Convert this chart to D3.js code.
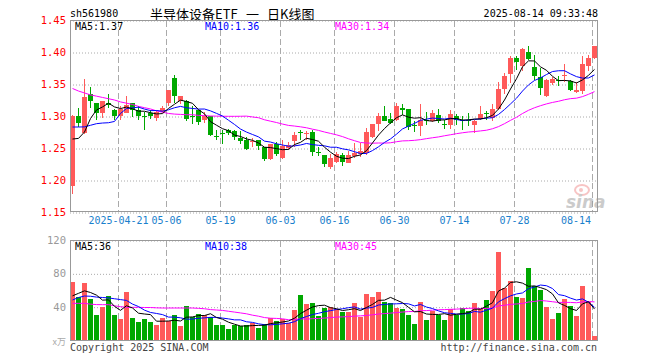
<!DOCTYPE html>
<html>
<head>
<meta charset="utf-8">
<script src="https://cdnjs.cloudflare.com/ajax/libs/d3/7.8.5/d3.min.js"></script>
<style>
body { margin: 0; background: #fff; }
svg { display: block; }
</style>
</head>
<body>
<div id="chart"></div>
<script>
// trading days shown (2025)
var dates = ["04-09","04-10","04-11","04-14","04-15","04-16","04-17","04-18","04-21","04-22","04-23","04-24","04-25","04-28","04-29","04-30",
  "05-06","05-07","05-08","05-09","05-12","05-13","05-14","05-15","05-16","05-19","05-20","05-21","05-22","05-23","05-26","05-27","05-28","05-29","05-30",
  "06-03","06-04","06-05","06-06","06-09","06-10","06-11","06-12","06-13","06-16","06-17","06-18","06-19","06-20","06-23","06-24","06-25","06-26","06-27","06-30",
  "07-01","07-02","07-03","07-04","07-07","07-08","07-09","07-10","07-11","07-14","07-15","07-16","07-17","07-18","07-21","07-22","07-23","07-24","07-25","07-28","07-29","07-30","07-31",
  "08-01","08-04","08-05","08-06","08-07","08-08","08-11","08-12","08-13","08-14"]

var open = [1.190,1.300,1.273,1.335,1.321,1.305,1.321,1.310,1.300,1.304,1.321,1.310,1.300,1.304,1.298,1.307,
  1.320,1.360,1.324,1.324,1.300,1.309,1.293,1.300,1.269,1.273,1.278,1.276,1.265,1.263,1.259,1.262,1.252,1.233,1.257,
  1.234,1.250,1.262,1.275,1.272,1.275,1.243,1.239,1.221,1.228,1.239,1.227,1.238,1.242,1.242,1.267,1.288,1.3005,1.296,1.293,
  1.3125,1.3115,1.286,1.284,1.293,1.293,1.302,1.287,1.2865,1.3005,1.2935,1.294,1.2865,1.296,1.305,1.297,1.3115,1.342,1.3646,1.390,1.378,1.400,1.3766,
  1.361,1.332,1.3516,1.3555,1.362,1.354,1.3375,1.340,1.3786,1.391]
var high = [1.302,1.313,1.358,1.346,1.321,1.324,1.335,1.311,1.315,1.332,1.321,1.315,1.307,1.310,1.310,1.316,
  1.341,1.364,1.332,1.325,1.315,1.310,1.307,1.300,1.278,1.278,1.280,1.278,1.276,1.267,1.266,1.263,1.252,1.257,1.260,
  1.263,1.259,1.275,1.278,1.276,1.278,1.252,1.239,1.241,1.243,1.242,1.245,1.258,1.258,1.282,1.288,1.304,1.316,1.304,1.321,
  1.318,1.3115,1.292,1.318,1.307,1.310,1.3115,1.294,1.309,1.3036,1.3005,1.305,1.293,1.315,1.308,1.319,1.3526,1.367,1.394,1.393,1.407,1.410,1.396,
  1.375,1.358,1.3604,1.362,1.382,1.357,1.3526,1.394,1.396,1.410]
var low = [1.178,1.283,1.272,1.312,1.293,1.297,1.312,1.294,1.294,1.304,1.299,1.294,1.278,1.295,1.292,1.304,
  1.316,1.320,1.318,1.292,1.287,1.286,1.289,1.269,1.263,1.257,1.270,1.263,1.256,1.247,1.252,1.247,1.230,1.231,1.238,
  1.233,1.247,1.252,1.263,1.263,1.237,1.238,1.220,1.217,1.226,1.222,1.226,1.235,1.236,1.239,1.265,1.276,1.292,1.287,1.292,
  1.302,1.278,1.2745,1.269,1.2855,1.290,1.2885,1.279,1.280,1.2865,1.2776,1.284,1.2734,1.2943,1.2943,1.2927,1.310,1.335,1.3516,1.372,1.370,1.387,1.357,
  1.333,1.330,1.3484,1.3464,1.3526,1.3385,1.336,1.335,1.370,1.389]
var close = [1.300,1.289,1.329,1.324,1.305,1.324,1.318,1.300,1.311,1.317,1.310,1.300,1.299,1.300,1.307,1.313,
  1.340,1.332,1.332,1.296,1.299,1.290,1.300,1.271,1.268,1.272,1.274,1.266,1.260,1.249,1.261,1.253,1.233,1.257,1.241,
  1.253,1.255,1.271,1.274,1.273,1.243,1.242,1.2245,1.235,1.241,1.228,1.239,1.242,1.246,1.2745,1.288,1.3005,1.293,1.290,1.315,
  1.310,1.283,1.285,1.294,1.2925,1.305,1.292,1.286,1.3036,1.294,1.293,1.293,1.2927,1.3036,1.304,1.3115,1.3427,1.363,1.390,1.384,1.405,1.389,1.362,
  1.344,1.357,1.358,1.355,1.364,1.340,1.341,1.382,1.3906,1.410]

var ma5 = [1.264,1.265,1.275,1.296,1.3094,1.3142,1.3200,1.3142,1.3116,1.3140,1.3112,1.3076,1.3074,1.3052,1.3032,1.3038,
  1.3118,1.3184,1.3248,1.3226,1.3198,1.3098,1.3034,1.2912,1.2856,1.2802,1.2770,1.2702,1.2680,1.2642,1.2620,1.2578,1.2512,1.2506,1.2490,
  1.2474,1.2478,1.2554,1.2588,1.2652,1.2632,1.2606,1.2513,1.2435,1.2371,1.2341,1.2335,1.2370,1.2392,1.2459,1.2579,1.2702,1.2804,1.2892,1.2973,
  1.3017,1.2982,1.2966,1.2974,1.2929,1.2919,1.2937,1.2939,1.2958,1.2961,1.2937,1.2939,1.2953,1.2953,1.2973,1.3010,1.3109,1.3250,1.3422,1.3582,1.3769,1.3862,1.3860,
  1.3768,1.3714,1.3620,1.3552,1.3556,1.3548,1.3516,1.3564,1.3636,1.3728]
var ma10 = [1.2828,1.2828,1.283,1.2855,1.288,1.289,1.2895,1.2915,1.304,1.3117,1.3127,1.3138,1.3108,1.3084,1.3086,1.3075,
  1.3097,1.3129,1.3150,1.3129,1.3118,1.3108,1.3109,1.3080,1.3041,1.3000,1.2934,1.2868,1.2796,1.2749,1.2711,1.2674,1.2607,1.2593,1.2566,
  1.2547,1.2528,1.2533,1.2547,1.2571,1.2553,1.2542,1.2534,1.2512,1.2512,1.2487,1.2471,1.2442,1.2414,1.2415,1.2460,1.2519,1.2587,1.2642,1.2716,
  1.2798,1.2842,1.2885,1.2933,1.2951,1.2968,1.2960,1.2953,1.2966,1.2945,1.2928,1.2938,1.2946,1.2955,1.2967,1.2973,1.3024,1.3101,1.3188,1.3278,1.3390,1.3486,1.3555,
  1.3595,1.3648,1.3695,1.3707,1.3708,1.3658,1.3615,1.3592,1.3594,1.3642]
var ma30 = [1.343,1.339,1.336,1.333,1.331,1.329,1.327,1.325,1.322,1.320,1.318,1.315,1.313,1.311,1.308,1.306,
  1.304,1.303,1.3025,1.302,1.302,1.301,1.3005,1.300,1.2998,1.2996,1.2995,1.2995,1.2996,1.2998,1.2985,1.2973,1.2941,1.2919,1.2898,
  1.2874,1.2853,1.2843,1.2831,1.2816,1.2794,1.2775,1.2750,1.2728,1.2706,1.2678,1.2644,1.2614,1.2586,1.2578,1.2575,1.2578,1.2576,1.2582,1.2598,
  1.2611,1.2614,1.2620,1.2631,1.2646,1.2660,1.2673,1.2691,1.2707,1.2724,1.2738,1.2750,1.2757,1.2767,1.2778,1.2801,1.2834,1.2880,1.2932,1.2980,1.3039,1.3089,1.3129,
  1.3161,1.3189,1.3212,1.3230,1.3254,1.3271,1.3279,1.3303,1.3339,1.3381]

// volume, 万手
var volume = [70,51.2,68.8,49.2,30,40,52.8,30,25.2,57.6,26.4,21.6,25.2,21.6,18,26.4,
  22.8,30,16.8,40.8,28,31.2,30,27.6,18,18,13.2,18,16.8,18,20.4,14.4,19.2,26.4,22.8,
  25.2,20.4,36,54,43.2,44.4,28.8,38.4,39.2,36.8,33.6,33.6,44.8,28,55.2,52,58,46,44.4,38.8,
  36.8,30,19.2,46,24,34.4,29.6,24,36.8,29.6,38.4,35.2,44.8,36.8,48,58.8,105.6,62,70.8,52,50.8,86.4,64.8,
  60.4,39.6,25.2,32.8,49.2,41.2,28.8,64.8,46,4.8]
var vma5 = [53,56,59,57,53.84,47.84,48.16,40.4,35.6,41.12,38.4,32.16,31.2,30.48,22.56,22.56,
  22.8,23.76,22.8,27.36,27.68,29.36,29.36,31.52,26.96,24.96,21.36,18.96,16.8,16.8,17.28,17.52,17.76,19.68,20.64,
  21.6,22.8,26.16,31.68,35.76,39.6,41.28,41.76,38.8,37.52,35.36,36.32,37.6,35.36,39.04,42.72,47.6,47.84,51.12,47.84,
  44.8,39.2,33.84,34.16,31.2,30.72,30.64,31.6,29.76,30.88,31.68,32.8,36.96,36.96,40.64,44.72,58.8,62.24,69.04,69.84,68.24,64.4,64.96,
  62.88,60.4,55.28,44.56,41.44,37.6,35.44,43.36,46,37.12]
var vma10 = [48,51,52.8,52.5,51.5,51,50.5,49.5,48.5,47.48,43.12,40.16,35.8,33.04,31.84,30.48,
  27.48,27.48,26.64,24.96,25.12,26.08,26.56,27.16,27.16,26.32,25.36,24.16,24.16,21.88,21.12,19.44,18.36,18.24,18.72,
  19.44,20.16,21.96,25.68,28.2,30.6,32.04,33.96,35.24,36.64,37.48,38.8,39.68,37.08,38.28,39.04,41.96,42.72,43.24,43.44,
  43.76,43.4,40.84,42.64,39.52,37.76,34.92,32.72,31.96,31.04,31.2,31.72,34.28,33.36,35.76,38.2,45.8,49.6,53,55.24,56.48,61.6,63.6,
  65.96,65.12,61.76,54.48,53.2,50.24,47.92,49.32,45.28,39.28]
var vma30 = [44,44,44,43,42.5,42.4,42.4,41,40,39.2,39.2,39.2,39,39,38.6,38.4,
  38.4,38.4,38.4,38.4,38.4,38,37.5,36.5,36,35.5,34.5,33.5,32.5,31.44,29.79,28.56,26.91,26.15,25.91,
  25.41,24.33,24.53,25.49,25.01,25.61,25.85,26.29,26.88,27.51,27.75,28.11,28.6,28.97,29.45,30.25,31.15,31.68,32.24,32.93,
  33.56,34.12,34.16,35.13,35.33,35.8,36.31,36.47,36.81,37.04,37.48,37.97,38.27,37.69,37.85,38.33,40.89,41.68,42.73,43.24,43.81,45.57,46.24,
  47.32,46.8,45.91,45.07,45.17,45.07,44.73,45.67,46.2,45.72]

var priceTicks = [1.15, 1.20, 1.25, 1.30, 1.35, 1.40, 1.45]
var volTicks = [40, 80, 120]
var dateTicks = ["04-21","05-06","05-19","06-03","06-16","06-30","07-14","07-28","08-14"]
var priceLegend = ["MA5:1.37", "MA10:1.36", "MA30:1.34"]
var volLegend = ["MA5:36", "MA10:38", "MA30:45"]

var red = "#ff5a5a", green = "#00a800"
var maColors = ["#000", "#0000ff", "#ff00ff"]
var mono = "'DejaVu Sans Mono', 'Liberation Mono', monospace"
var cjk = "'Noto Sans CJK SC', sans-serif"

var svg = d3.select("#chart")
    .append("svg")
    .attr("width", 660)
    .attr("height", 360)
    .style("font-family", mono)
    .style("font-size", "10px")

// plot areas
var left = 70, right = 598
var x = d3.scaleLinear().domain([0, 88]).range([left, right])
var yP = d3.scaleLinear().domain([1.15, 1.45]).range([212, 20])
var yV = d3.scaleLinear().domain([0, 120]).range([340, 240])
var idx = d3.range(dates.length)

// header
svg.append("text").attr("x", 70).attr("y", 17).text("sh561980")
var title = svg.append("g").style("font-family", cjk).style("font-size", "13px")
title.append("text").attr("x", 150).attr("y", 18.5).text("半导体设备ETF")
title.append("text").attr("x", 246).attr("y", 18.5).text("一")
title.append("text").attr("x", 267).attr("y", 18.5).text("日K线图")
svg.append("text").attr("x", 598).attr("y", 17).attr("text-anchor", "end").text("2025-08-14 09:33:48")

// price grid + labels
var yAxis = svg.append("g")
    .attr("transform", "translate(" + left + ",0)")
    .call(d3.axisLeft(yP).tickValues(priceTicks).tickSize(-(right - left)).tickPadding(4)
        .tickFormat(d3.format(".2f")))
yAxis.select(".domain").remove()
yAxis.selectAll(".tick line")
    .attr("stroke", "#aaa").attr("stroke-dasharray", "1,2")
    .attr("transform", "translate(0,0.5)")
yAxis.selectAll(".tick text").attr("fill", "#f00").style("font-family", mono).style("font-size", "10.5px")

// volume grid + labels
var vAxis = svg.append("g")
    .attr("transform", "translate(" + left + ",0)")
    .call(d3.axisLeft(yV).tickValues(volTicks).tickSize(-(right - left)).tickPadding(4))
vAxis.select(".domain").remove()
vAxis.selectAll(".tick line")
    .attr("stroke", "#aaa").attr("stroke-dasharray", "1,2")
    .attr("transform", "translate(0,0.5)")
vAxis.selectAll(".tick text").attr("fill", "#999").style("font-family", mono).style("font-size", "10.5px")

// vertical dashed date lines
var tickIdx = dateTicks.map(function(d){ return dates.indexOf(d) })
tickIdx.forEach(function(i){
    var xx = Math.round(x(i)) + 0.5
    svg.append("line").attr("x1", xx).attr("x2", xx).attr("y1", 21).attr("y2", 212)
        .attr("stroke", "#aaa").attr("stroke-dasharray", "6,3")
    svg.append("line").attr("x1", xx).attr("x2", xx).attr("y1", 241).attr("y2", 340)
        .attr("stroke", "#aaa").attr("stroke-dasharray", "6,3")
})

// date labels
tickIdx.forEach(function(i, k){
    var label = k == 0 ? "2025-" + dateTicks[k] : dateTicks[k]
    var w = label.length * 6
    var cx = Math.min(x(i) + 0.5, 591 - w / 2)
    svg.append("text")
        .attr("x", cx).attr("y", 224)
        .attr("text-anchor", "middle")
        .attr("fill", "#1a80cc")
        .text(label)
})

// sina watermark
var wm = svg.append("g").attr("opacity", 0.5)
wm.append("ellipse").attr("cx", 582).attr("cy", 190).attr("rx", 7).attr("ry", 5)
    .attr("fill", "none").attr("stroke", "#f28b8b").attr("stroke-width", 2)
wm.append("circle").attr("cx", 581).attr("cy", 190).attr("r", 2).attr("fill", "#f28b8b")
wm.append("text").attr("x", 566).attr("y", 208)
    .style("font-family", "'DejaVu Sans', sans-serif").style("font-size", "17px")
    .style("font-weight", "bold").style("font-style", "italic")
    .attr("fill", "#999").text("sina")

// candles
var up = function(i){ return close[i] >= open[i] }
svg.selectAll(".wick")
    .data(idx)
    .enter()
    .append("line")
        .attr("x1", function(i){ return x(i) + 2.5 })
        .attr("x2", function(i){ return x(i) + 2.5 })
        .attr("y1", function(i){ return yP(high[i]) })
        .attr("y2", function(i){ return yP(low[i]) })
        .attr("stroke", function(i){ return up(i) ? red : green })
        .attr("shape-rendering", "crispEdges")
svg.selectAll(".body")
    .data(idx)
    .enter()
    .append("rect")
        .attr("x", function(i){ return x(i) })
        .attr("width", 5)
        .attr("y", function(i){ return Math.round(yP(Math.max(open[i], close[i]))) })
        .attr("height", function(i){ return Math.max(1, Math.round(Math.abs(yP(open[i]) - yP(close[i])))) })
        .attr("fill", function(i){ return up(i) ? red : green })
        .attr("shape-rendering", "crispEdges")

// volume bars
svg.selectAll(".vol")
    .data(idx)
    .enter()
    .append("rect")
        .attr("x", function(i){ return x(i) })
        .attr("width", 5)
        .attr("y", function(i){ return yV(volume[i]) })
        .attr("height", function(i){ return yV(0) - yV(volume[i]) })
        .attr("fill", function(i){ return up(i) ? red : green })
        .attr("shape-rendering", "crispEdges")

// moving average lines
function maLine(arr, yScale, color){
    svg.append("path")
        .datum(idx)
        .attr("fill", "none")
        .attr("stroke", color)
        .attr("stroke-width", 1)
        .attr("d", d3.line()
            .x(function(i){ return x(i) + 2.5 })
            .y(function(i){ return yScale(arr[i]) }))
}
maLine(ma30, yP, maColors[2])
maLine(ma10, yP, maColors[1])
maLine(ma5, yP, maColors[0])
maLine(vma30, yV, maColors[2])
maLine(vma10, yV, maColors[1])
maLine(vma5, yV, maColors[0])

// panel borders
svg.append("rect").attr("x", 70.5).attr("y", 20.5).attr("width", 527).attr("height", 191)
    .attr("fill", "none").attr("stroke", "#999")
svg.append("rect").attr("x", 70.5).attr("y", 240.5).attr("width", 527).attr("height", 100)
    .attr("fill", "none").attr("stroke", "#999")

// legends
var legX = [75, 205, 335]
priceLegend.forEach(function(d, k){ svg.append("text").attr("x", legX[k]).attr("y", 30).attr("fill", maColors[k]).text(d) })
volLegend.forEach(function(d, k){ svg.append("text").attr("x", legX[k]).attr("y", 250).attr("fill", maColors[k]).text(d) })

// footer
svg.append("text").attr("x", 66).attr("y", 345).attr("text-anchor", "end").attr("fill", "#aaa")
    .style("font-family", cjk).style("font-size", "9px").text("x万")
svg.append("text").attr("x", 70).attr("y", 351).attr("fill", "#444").text("Copyright 2025 SINA.COM")
svg.append("text").attr("x", 597).attr("y", 351).attr("text-anchor", "end").attr("fill", "#444").text("http://finance.sina.com.cn")
</script>
</body>
</html>
